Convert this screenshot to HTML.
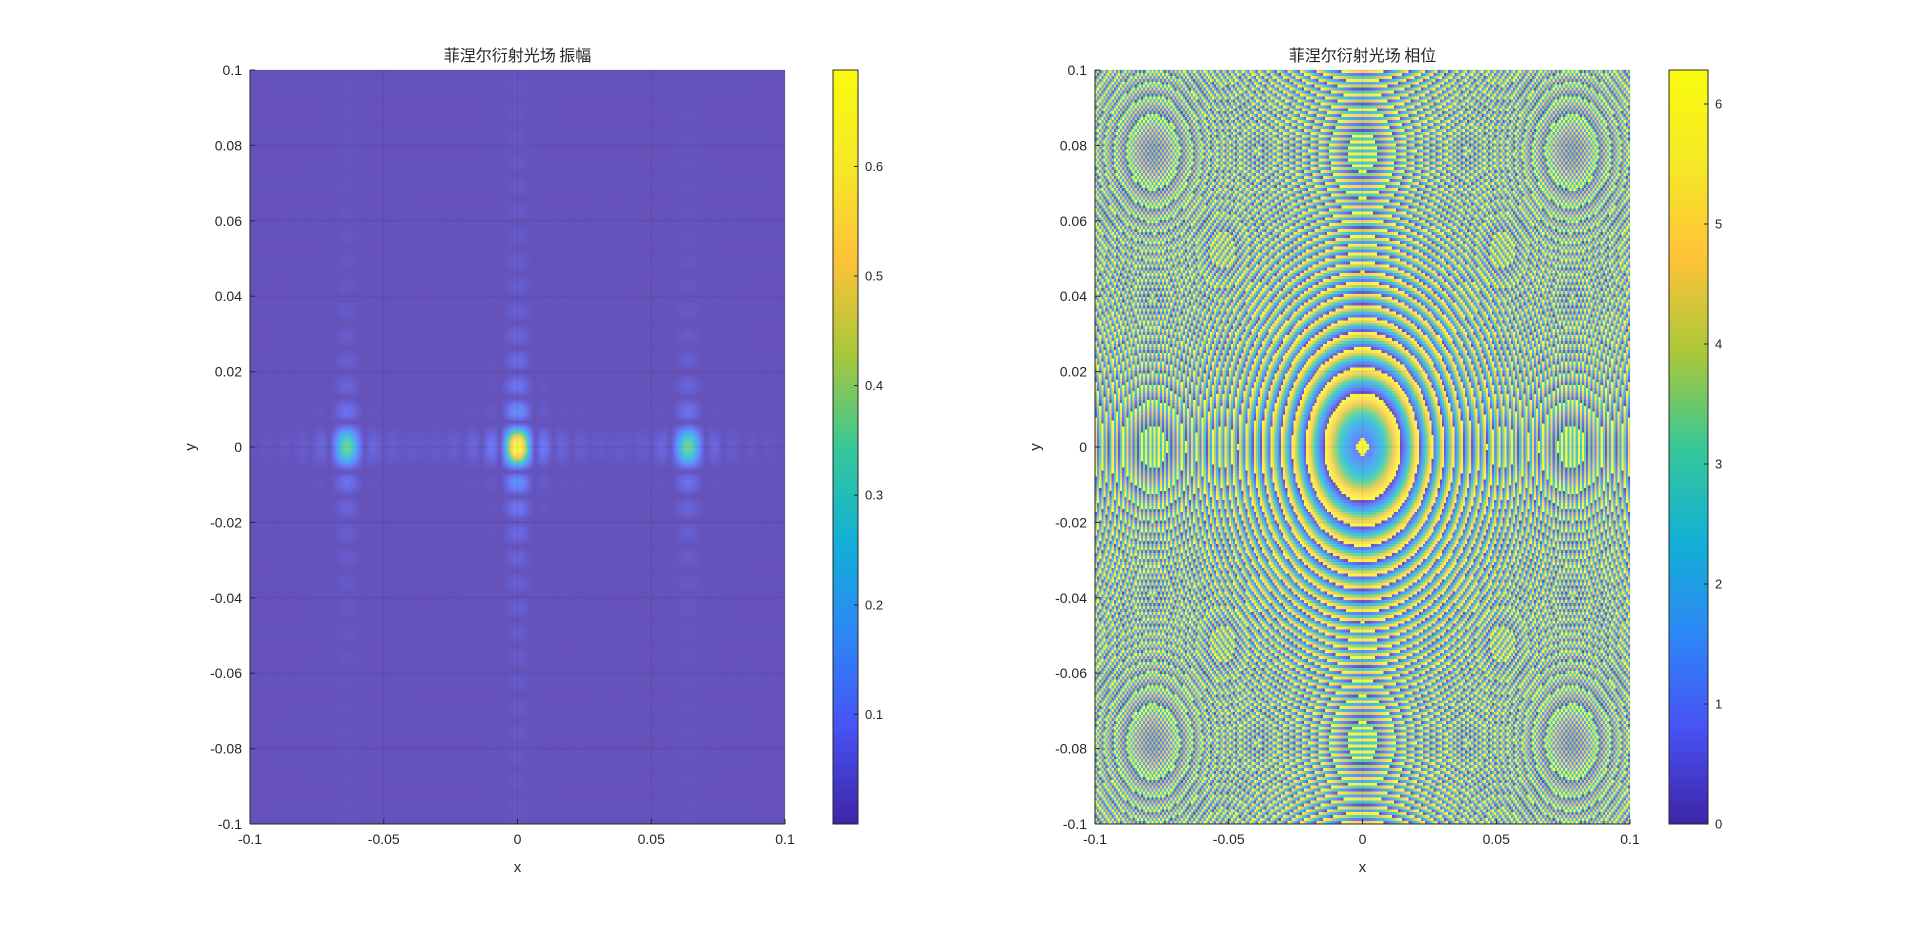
<!DOCTYPE html>
<html><head><meta charset="utf-8">
<style>
html,body{margin:0;padding:0;background:#fff;}
#root{position:relative;width:1920px;height:927px;overflow:hidden;font-family:"Liberation Sans","Noto Sans CJK SC",sans-serif;}
canvas{position:absolute;}
svg{position:absolute;left:0;top:0;}
</style></head>
<body>
<div id="root">
<canvas id="ampCanvas" style="left:250px;top:70px;width:535px;height:754px" width="301" height="301"></canvas>
<canvas id="phaseCanvas" style="left:1095px;top:70px;width:535px;height:754px;image-rendering:pixelated" width="256" height="256"></canvas>
<canvas id="cb1" style="left:833px;top:70px;width:25px;height:754px" width="1" height="256"></canvas>
<canvas id="cb2" style="left:1669px;top:70px;width:39px;height:754px" width="1" height="256"></canvas>
<svg id="ov" width="1920" height="927"></svg>
</div>
<script>
// ---- data ----
const peakX = [-0.064, 0, 0.064];
const peakAmp = [0.36, 0.68, 0.36];
const lobeWidth = [0.0068, 0.0066]; // sinc zero spacing x, y
const lobeExpX = [1.3];
const phaseCurv = [25500];           // quadratic phase coefficient
const phaseOffset = [1.0];
const centerDot = [0.0022, 6.1];     // radius, phase value
const xTicks = [-0.1, -0.05, 0, 0.05, 0.1];
const xTickLabels = ["-0.1", "-0.05", "0", "0.05", "0.1"];
const yTicks = [0.1, 0.08, 0.06, 0.04, 0.02, 0, -0.02, -0.04, -0.06, -0.08, -0.1];
const yTickLabels = ["0.1", "0.08", "0.06", "0.04", "0.02", "0", "-0.02", "-0.04", "-0.06", "-0.08", "-0.1"];
const cb1Ticks = [0.1, 0.2, 0.3, 0.4, 0.5, 0.6];
const cb1Range = [0, 0.688];
const cb2Ticks = [0, 1, 2, 3, 4, 5, 6];
const cb2Range = [0, 6.2832];

const parula = [[62,38,168],[72,82,244],[46,135,247],[18,177,214],[55,200,151],[171,199,57],[254,195,56],[246,232,39],[249,251,14]];
function cmap(t){t=Math.max(0,Math.min(1,t));const f=t*(parula.length-1);const i=Math.min(parula.length-2,Math.floor(f));const u=f-i;
 return parula[i].map((c,k)=>c+(parula[i+1][k]-c)*u);}
function sinc(u){if(Math.abs(u)<1e-9)return 1;return Math.sin(Math.PI*u)/(Math.PI*u);}
function blend(c){return c.map(v=>Math.round(0.8*v+0.2*255));}

// amplitude
(function(){const cv=document.getElementById('ampCanvas');const ctx=cv.getContext('2d');const N=301;const img=ctx.createImageData(N,N);
 for(let j=0;j<N;j++){const y=0.1-j*0.2/(N-1);for(let i=0;i<N;i++){const x=-0.1+i*0.2/(N-1);let s=0;
  for(let p=0;p<peakX.length;p++){s+=peakAmp[p]*Math.pow(Math.abs(sinc((x-peakX[p])/lobeWidth[0])),lobeExpX[0])*Math.abs(sinc(y/lobeWidth[1]));}
  const c=blend(cmap((Math.abs(s)-cb1Range[0])/(cb1Range[1]-cb1Range[0])));const k=(j*N+i)*4;img.data[k]=c[0];img.data[k+1]=c[1];img.data[k+2]=c[2];img.data[k+3]=255;}}
 ctx.putImageData(img,0,0);})();
// phase
(function(){const cv=document.getElementById('phaseCanvas');const ctx=cv.getContext('2d');const N=256;const img=ctx.createImageData(N,N);const TP=2*Math.PI;
 for(let j=0;j<N;j++){const y=0.1-j*0.2/(N-1);for(let i=0;i<N;i++){const x=-0.1+i*0.2/(N-1);const r2=x*x+y*y;let ph=phaseOffset[0]+phaseCurv[0]*r2;ph=((ph%TP)+TP)%TP;
  if(Math.sqrt(r2)<centerDot[0])ph=centerDot[1];
  const c=blend(cmap(ph/cb2Range[1]));const k=(j*N+i)*4;img.data[k]=c[0];img.data[k+1]=c[1];img.data[k+2]=c[2];img.data[k+3]=255;}}
 ctx.putImageData(img,0,0);})();
['cb1','cb2'].forEach(id=>{const cv=document.getElementById(id);const ctx=cv.getContext('2d');for(let j=0;j<256;j++){const c=cmap(1-j/255).map(Math.round);ctx.fillStyle=`rgb(${c})`;ctx.fillRect(0,j,1,1);}});

// overlay
const svg=document.getElementById('ov');const NS='http://www.w3.org/2000/svg';
function el(tag,attrs,parent){const e=document.createElementNS(NS,tag);for(const k in attrs)e.setAttribute(k,attrs[k]);(parent||svg).appendChild(e);return e;}
const T=70,B=824;
function axes(L,R,title,tag){
 const sx=v=>L+(v+0.1)/0.2*(R-L), sy=v=>B-(v+0.1)/0.2*(B-T);
 const g=el('g',{});
 
 
 xTicks.forEach((v,i)=>{const x=sx(v);
  const gl=el('line',{x1:x,x2:x,y1:T,y2:B,stroke:'rgba(0,0,0,0.08)','stroke-width':1},g);
  
  el('line',{x1:x,x2:x,y1:B,y2:B-5,stroke:'#262626'},g);
  const t=el('text',{x:x,y:B+20,'text-anchor':'middle','font-size':14,fill:'#262626'},g);t.textContent=xTickLabels[i];
  });
 yTicks.forEach((v,i)=>{const y=sy(v);
  const gl=el('line',{x1:L,x2:R,y1:y,y2:y,stroke:'rgba(0,0,0,0.08)','stroke-width':1},g);
  
  el('line',{x1:L,x2:L+5,y1:y,y2:y,stroke:'#262626'},g);
  const t=el('text',{x:L-8,y:y+5,'text-anchor':'end','font-size':14,fill:'#262626'},g);t.textContent=yTickLabels[i];
  });
 el('line',{x1:L,x2:L,y1:T,y2:B,stroke:'#262626'},g);el('line',{x1:L,x2:R,y1:B,y2:B,stroke:'#262626'},g);
 const tt=el('text',{x:(L+R)/2,y:61,'text-anchor':'middle','font-size':16,fill:'#262626','font-family':'"Noto Sans CJK SC",sans-serif'},g);tt.textContent=title;
 
 const xl=el('text',{x:(L+R)/2,y:872,'text-anchor':'middle','font-size':15,fill:'#262626'},g);xl.textContent='x';
 
 const yl=el('text',{x:0,y:0,'text-anchor':'middle','font-size':15,fill:'#262626',transform:`translate(${L-55},${(T+B)/2}) rotate(-90)`},g);yl.textContent='y';
 
}
axes(250,785,'菲涅尔衍射光场 振幅','amplitude');
axes(1095,1630,'菲涅尔衍射光场 相位','phase');
function colorbar(L,W,ticks,range,tag){
 const g=el('g',{});
 
 
 el('rect',{x:L,y:T,width:W,height:B-T,fill:'none',stroke:'#262626','stroke-width':1},g);
 ticks.forEach(v=>{const y=B-(v-range[0])/(range[1]-range[0])*(B-T);
  el('line',{x1:L+W-4,x2:L+W,y1:y,y2:y,stroke:'#262626'},g);
  const t=el('text',{x:L+W+7,y:y+4.5,'font-size':13,fill:'#262626'},g);t.textContent=String(v);
  });
}
colorbar(833,25,cb1Ticks,cb1Range,'amplitude');
colorbar(1669,39,cb2Ticks,cb2Range,'phase');
</script>
</body></html>
